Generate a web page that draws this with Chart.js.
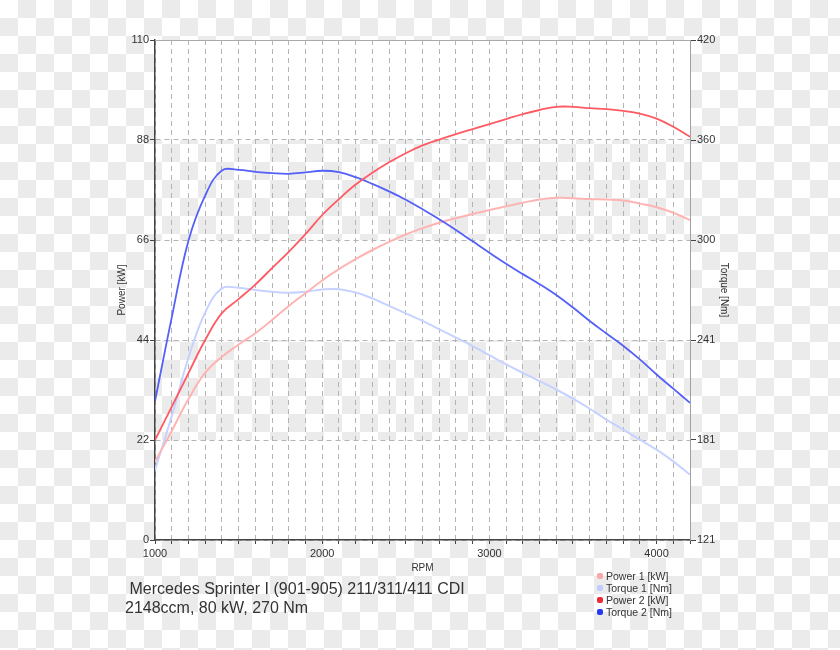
<!DOCTYPE html>
<html>
<head>
<meta charset="utf-8">
<script src="https://cdn.jsdelivr.net/npm/chart.js@4"></script>
<style>
  html, body { margin: 0; padding: 0; }
  body {
    width: 840px; height: 650px; position: relative; overflow: hidden;
    background-color: #fff;
    background-image: conic-gradient(#ebebeb 25%, transparent 0 50%, #ebebeb 0 75%, transparent 0);
    background-size: 36px 36px;
    font-family: "Liberation Sans", Arial, sans-serif; color: #333;
  }
  #chart { position: absolute; left: 0; top: 0; }
  #caption { position: absolute; left: 125px; top: 579px; font-size: 16px; line-height: 19px; white-space: pre; }
  #legend { position: absolute; left: 597px; top: 570px; font-size: 10.5px; line-height: 12px; }
  #legend .item { display: flex; align-items: center; height: 12px; }
  #legend .dot { width: 6px; height: 6px; border-radius: 2px; margin-right: 3px; }
</style>
</head>
<body>
<canvas id="chart" width="840" height="650"></canvas>
<div id="caption"> Mercedes Sprinter I (901-905) 211/311/411 CDI
2148ccm, 80 kW, 270 Nm</div>
<div id="legend"></div>
<script>
const rpm = [1000, 1100, 1200, 1300, 1400, 1500, 1600, 1700, 1800, 1900, 2000,
             2100, 2200, 2300, 2400, 2500, 2600, 2700, 2800, 2900, 3000,
             3100, 3200, 3300, 3400, 3500, 3600, 3700, 3800, 3900, 4000, 4100, 4200];

// kW, left axis
const power1 = [17.2, 24, 31, 36.8, 40.3, 43, 45.5, 48.4, 51.5, 54.3, 57.1,
                59.6, 61.8, 63.8, 65.6, 67.2, 68.6, 69.8, 70.8, 71.7, 72.6,
                73.4, 74.2, 74.9, 75.3, 75.2, 75.0, 74.9, 74.7, 74.0, 73.2, 72.0, 70.4];
const power2 = [22, 29.3, 36.7, 44, 49.9, 53, 56.2, 59.8, 63.4, 67.3, 71.5,
                75, 78.2, 80.8, 83.1, 85.1, 86.8, 88.1, 89.3, 90.4, 91.5,
                92.6, 93.7, 94.6, 95.3, 95.3, 95.0, 94.8, 94.4, 93.8, 92.7, 90.9, 88.7];

// Nm, right axis
const torque1 = [163, 195, 230, 257, 271.5, 271.8, 270.5, 269.5, 268.8, 269.5, 270.8,
                 271, 269, 265.5, 261, 256.5, 252, 247, 242, 237, 231.5,
                 226, 221, 216, 211, 205.5, 199.5, 193, 187, 181, 175, 168, 160];
const torque2 = [204, 254, 300, 327, 342, 342.3, 341.2, 340.4, 340, 340.8, 341.8,
                 341, 338, 334, 329.5, 324.5, 318.8, 312.8, 306.4, 299.6, 292.8,
                 286.2, 280, 274, 267.5, 260, 252, 244.5, 237.2, 229, 220, 211.5, 203];

const seriesNames = ['Power 1 [kW]', 'Torque 1 [Nm]', 'Power 2 [kW]', 'Torque 2 [Nm]'];
const lineColors = ['#ffb4b4', '#c6d2ff', '#ff5a64', '#5461f7'];
const dotColors = ['#f7a8a8', '#c0ccff', '#f02838', '#2838f0'];

const pts = (vals) => rpm.map((r, i) => ({ x: r, y: vals[i] }));

const FONT = { family: '"Liberation Sans", Arial, sans-serif', size: 11 };
const GRID = '#b4b4b4';
const AXIS = '#444';

// white bands behind the grid (every other 22 kW band)
const bandPlugin = {
  id: 'bands',
  beforeDraw(chart) {
    const { ctx, chartArea: a, scales: { y } } = chart;
    ctx.save();
    ctx.fillStyle = '#ffffff';
    [[0, 22], [44, 66], [88, 110]].forEach(([lo, hi]) => {
      const top = y.getPixelForValue(hi), bot = y.getPixelForValue(lo);
      ctx.fillRect(a.left, top, a.right - a.left, bot - top);
    });
    ctx.restore();
  },
  beforeDatasetsDraw(chart) {
    const { ctx, chartArea: a } = chart;
    ctx.save();
    ctx.strokeStyle = '#aaaaaa';
    ctx.lineWidth = 1;
    ctx.beginPath();
    ctx.moveTo(a.left, a.top + 0.5);
    ctx.lineTo(a.right, a.top + 0.5);
    ctx.stroke();
    ctx.restore();
  }
};

const datasets = [power1, torque1, power2, torque2].map((vals, i) => ({
  label: seriesNames[i],
  data: pts(vals),
  yAxisID: i % 2 === 0 ? 'y' : 'y2',
  borderColor: lineColors[i],
  backgroundColor: dotColors[i],
  borderWidth: i < 2 ? 2 : 1.8,
  pointRadius: 0,
  tension: 0.4,
  fill: false,
}));
// draw the pale series under the strong ones
datasets[0].order = 3; datasets[1].order = 4; datasets[2].order = 1; datasets[3].order = 2;

const chart = new Chart(document.getElementById('chart'), {
  type: 'line',
  data: { datasets },
  plugins: [bandPlugin],
  options: {
    responsive: false,
    animation: false,
    layout: { padding: { left: 112, right: 106, top: 40, bottom: 72 } },
    plugins: { legend: { display: false }, tooltip: { enabled: false } },
    scales: {
      x: {
        type: 'linear', min: 1000, max: 4200,
        afterFit: s => { s.height = 38; },
        ticks: {
          stepSize: 100, autoSkip: false, maxRotation: 0, padding: 3,
          color: '#333', font: FONT,
          callback: v => (v % 1000 === 0 ? String(v) : ''),
        },
        grid: { color: GRID, lineWidth: 1, tickColor: AXIS, tickLength: 4 },
        border: { color: AXIS, width: 1.5, dash: [5, 4] },
        title: { display: true, text: 'RPM', color: '#333', font: { family: FONT.family, size: 10 }, padding: { top: 2, bottom: 4 } },
      },
      y: {
        position: 'left', min: 0, max: 110,
        afterFit: s => { s.width = 43; },
        ticks: { stepSize: 22, color: '#333', font: FONT, padding: 1 },
        grid: { color: GRID, lineWidth: 1, tickColor: AXIS, tickLength: 5 },
        border: { color: AXIS, width: 1.5, dash: [5, 4] },
        title: { display: true, text: 'Power [kW]', color: '#333', font: { family: FONT.family, size: 10 }, padding: { top: 4, bottom: 4 } },
      },
      y2: {
        position: 'right', min: 121, max: 420,
        afterFit: s => { s.width = 44; },
        ticks: { stepSize: 59.8, color: '#333', font: FONT, padding: 1, callback: v => String(Math.round(v)) },
        grid: { drawOnChartArea: false, tickColor: AXIS, tickLength: 6 },
        border: { color: '#a0a0a0', width: 1 },
        title: { display: true, text: 'Torque [Nm]', color: '#333', font: { family: FONT.family, size: 10 }, padding: { top: 4, bottom: 4 } },
      },
    },
  },
});

// legend as plain text beside the caption
const legend = document.getElementById('legend');
chart.data.datasets.forEach(ds => {
  const row = document.createElement('div');
  row.className = 'item';
  const dot = document.createElement('span');
  dot.className = 'dot';
  dot.style.background = ds.backgroundColor;
  row.appendChild(dot);
  row.appendChild(document.createTextNode(ds.label));
  legend.appendChild(row);
});
</script>
</body>
</html>
